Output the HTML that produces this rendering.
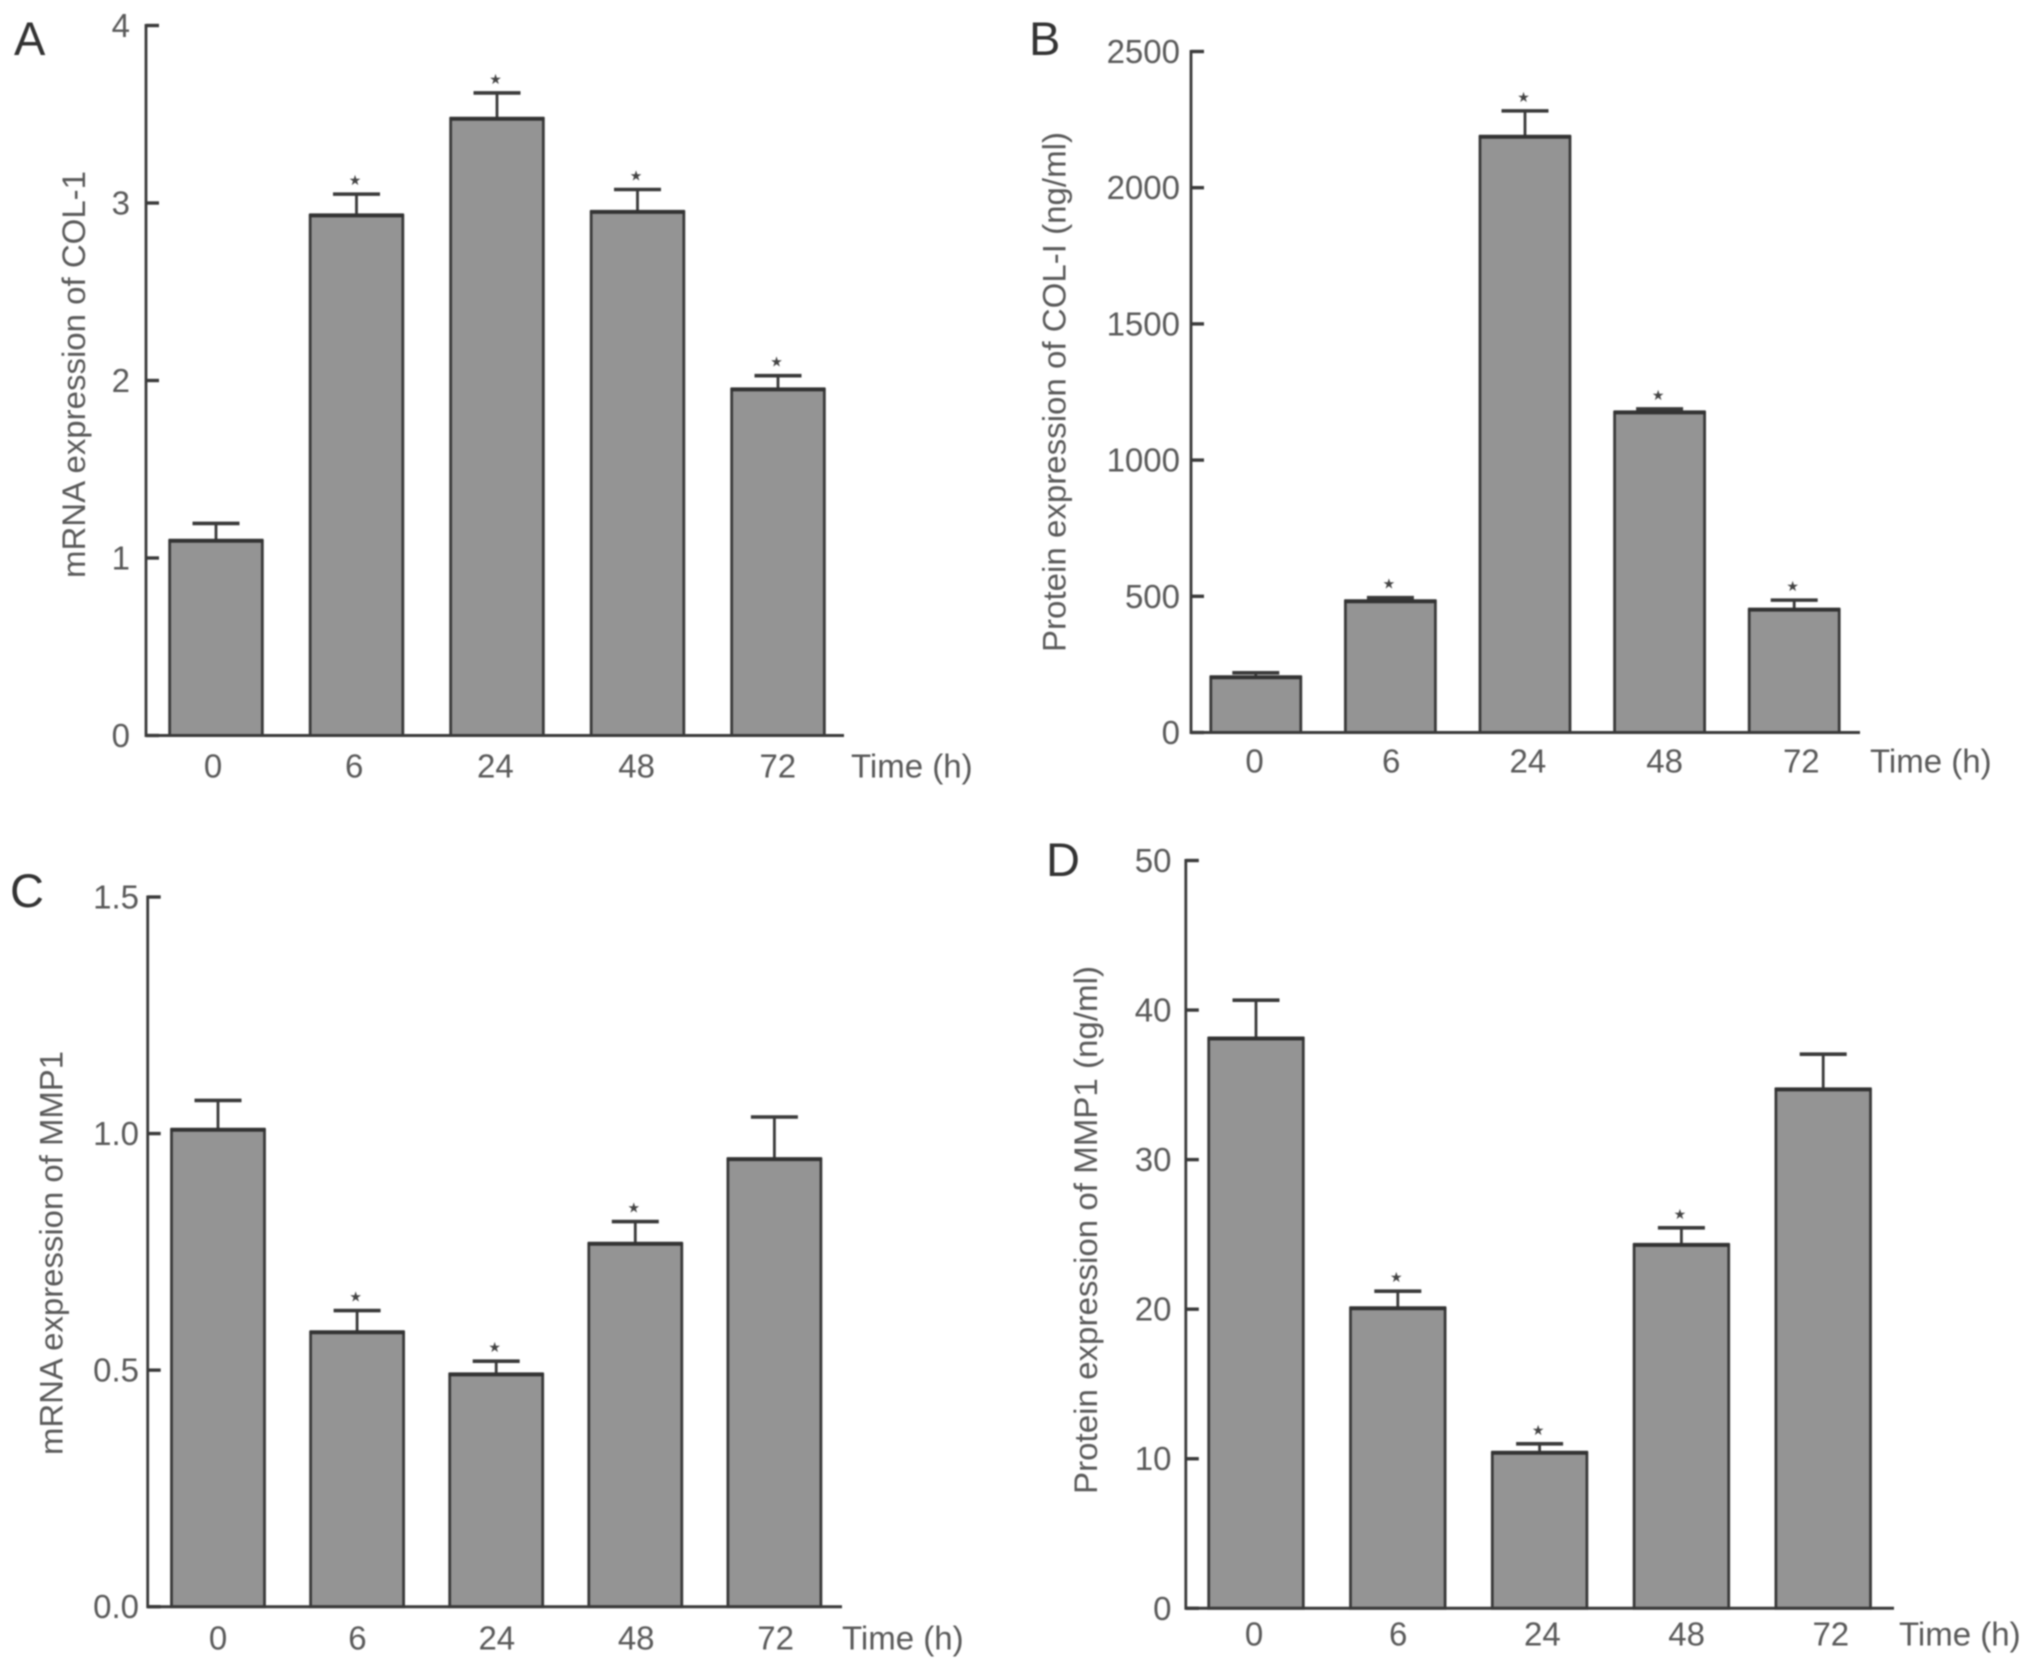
<!DOCTYPE html>
<html lang="en">
<head>
<meta charset="utf-8">
<title>COL-1 and MMP1 expression over time</title>
<style>
  html, body { margin: 0; padding: 0; background: #fff; }
  body { width: 2032px; height: 1665px; overflow: hidden; }
  svg { display: block; filter: blur(0.7px); }
  text { font-family: "Liberation Sans", sans-serif; }
</style>
</head>
<body>
<svg id="figure" xmlns="http://www.w3.org/2000/svg" width="2032" height="1665" viewBox="0 0 2032 1665"></svg>
<script>
const categories = ['0', '6', '24', '48', '72'];

const ticksA = [0, 1, 2, 3, 4];
const tickLabelsA = ['0', '1', '2', '3', '4'];
const meansA = [1.097, 2.93, 3.475, 2.95, 1.95];
const upperA = [1.195, 3.05, 3.62, 3.076, 2.027];
const starsA = [false, true, true, true, true];

const ticksB = [0, 500, 1000, 1500, 2000, 2500];
const tickLabelsB = ['0', '500', '1000', '1500', '2000', '2500'];
const meansB = [203, 482, 2187, 1175, 451];
const upperB = [219, 495, 2282, 1188, 486];
const starsB = [false, true, true, true, true];

const ticksC = [0, 0.5, 1, 1.5];
const tickLabelsC = ['0.0', '0.5', '1.0', '1.5'];
const meansC = [1.008, 0.58, 0.491, 0.767, 0.946];
const upperC = [1.07, 0.626, 0.519, 0.814, 1.035];
const starsC = [false, true, true, true, false];

const ticksD = [0, 10, 20, 30, 40, 50];
const tickLabelsD = ['0', '10', '20', '30', '40', '50'];
const meansD = [38.1, 20.06, 10.4, 24.3, 34.7];
const upperD = [40.66, 21.2, 11.0, 25.44, 37.05];
const starsD = [false, true, true, true, false];

const panels = [
  { id: 'a', letter: 'A', title: 'mRNA expression of COL-1', ticks: ticksA, tickLabels: tickLabelsA, means: meansA, upper: upperA, stars: starsA,
    axisX: 146, baseY: 735.5, topY: 25.5, endX: 844, max: 4,
    barStart: 216, barStep: 140.5, barW: 92.7,
    labelRight: 130, catStart: 213, catStep: 141.2, catY: 766,
    timeX: 851, titleX: 85, titleBottom: 578, titleLen: 407, letterX: 14, letterY: 55 },
  { id: 'b', letter: 'B', title: 'Protein expression of COL-I (ng/ml)', ticks: ticksB, tickLabels: tickLabelsB, means: meansB, upper: upperB, stars: starsB,
    axisX: 1191, baseY: 732.5, topY: 51.5, endX: 1860, max: 2500,
    barStart: 1255.8, barStep: 134.6, barW: 90,
    labelRight: 1180, catStart: 1254.5, catStep: 136.7, catY: 761,
    timeX: 1870, titleX: 1065.5, titleBottom: 652, titleLen: 520, letterX: 1029, letterY: 55 },
  { id: 'c', letter: 'C', title: 'mRNA expression of MMP1', ticks: ticksC, tickLabels: tickLabelsC, means: meansC, upper: upperC, stars: starsC,
    axisX: 147.7, baseY: 1606.7, topY: 897, endX: 842, max: 1.5,
    barStart: 218, barStep: 139.1, barW: 93,
    labelRight: 139, catStart: 218, catStep: 139.4, catY: 1638,
    timeX: 842, titleX: 62.5, titleBottom: 1455, titleLen: 404, letterX: 10, letterY: 907 },
  { id: 'd', letter: 'D', title: 'Protein expression of MMP1 (ng/ml)', ticks: ticksD, tickLabels: tickLabelsD, means: meansD, upper: upperD, stars: starsD,
    axisX: 1185.8, baseY: 1608.3, topY: 860.5, endX: 1894, max: 50,
    barStart: 1256, barStep: 141.8, barW: 94.6,
    labelRight: 1171.5, catStart: 1254, catStep: 144.2, catY: 1634,
    timeX: 1899, titleX: 1097, titleBottom: 1494, titleLen: 528, letterX: 1046, letterY: 876 }
];

const NS = 'http://www.w3.org/2000/svg';
const figure = document.getElementById('figure');
const INK = '#3a3a3a';
const TEXT = '#5a5a5a';

function shape(tag, parent, attrs) {
  const el = document.createElementNS(NS, tag);
  for (const key in attrs) {
    el.setAttribute(key, attrs[key]);
  }
  parent.appendChild(el);
  return el;
}

function makeYScale(p) {
  return function (value) {
    return p.baseY - (value / p.max) * (p.baseY - p.topY);
  };
}

function makeBarX(p) {
  return function (index) {
    return p.barStart + index * p.barStep;
  };
}

function makeCatX(p) {
  return function (index) {
    return p.catStart + index * p.catStep;
  };
}

function axisText(parent, content, x, y, anchor) {
  const el = shape('text', parent, {
    x: x,
    y: y,
    'text-anchor': anchor,
    'font-size': 33,
    fill: TEXT
  });
  el.textContent = content;
  return el;
}

panels.forEach(function (p) {
  const y = makeYScale(p);
  const barX = makeBarX(p);
  const catX = makeCatX(p);

  const group = shape('g', figure, {});
  
  

  const letter = shape('text', group, { x: p.letterX, y: p.letterY, 'font-size': 47, fill: '#333' });
  letter.textContent = p.letter;
  
  

  const title = shape('text', group, {
    transform: 'translate(' + p.titleX + ',' + p.titleBottom + ') rotate(-90)',
    'font-size': 32.5,
    fill: TEXT,
    textLength: p.titleLen,
    lengthAdjust: 'spacingAndGlyphs'
  });
  title.textContent = p.title;
  
  

  p.means.forEach(function (mean, i) {
    const cx = barX(i);
    const left = cx - p.barW / 2;
    const top = y(mean);
    const capY = y(p.upper[i]);

    const stem = shape('line', group, { x1: cx, x2: cx, y1: capY, y2: top, stroke: INK, 'stroke-width': 2.8 });
    
    

    const cap = shape('line', group, { x1: cx - 23.5, x2: cx + 23.5, y1: capY, y2: capY, stroke: INK, 'stroke-width': 3.6 });
    
    

    const bar = shape('rect', group, { x: left, y: top, width: p.barW, height: p.baseY - top, fill: '#949494', stroke: INK, 'stroke-width': 2.8 });
    
    

    const barTop = shape('line', group, { x1: left - 1, x2: left + p.barW + 1, y1: top, y2: top, stroke: '#333', 'stroke-width': 4 });
    
    

    if (p.stars[i]) {
      const star = shape('text', group, { x: cx - 1.5, y: capY - 9, 'text-anchor': 'middle', 'font-size': 14, fill: '#444', style: 'font-family: "DejaVu Sans", sans-serif' });
      star.textContent = '★';
      
      
    }

    const cat = axisText(group, categories[i], catX(i), p.catY + 11.5, 'middle');
    
    
  });

  const yAxis = shape('line', group, { x1: p.axisX, x2: p.axisX, y1: p.topY - 1.5, y2: p.baseY + 1.5, stroke: INK, 'stroke-width': 2.8 });
  
  

  const xAxis = shape('line', group, { x1: p.axisX, x2: p.endX, y1: p.baseY, y2: p.baseY, stroke: INK, 'stroke-width': 3 });
  
  

  p.ticks.forEach(function (tick, i) {
    const ty = y(tick);
    const mark = shape('line', group, { x1: p.axisX, x2: p.axisX + 13, y1: ty, y2: ty, stroke: INK, 'stroke-width': 3.4 });
    
    

    const label = axisText(group, p.tickLabels[i], p.labelRight, ty + 11.5, 'end');
    
    
  });

  const time = axisText(group, 'Time (h)', p.timeX, p.catY + 11.5, 'start');
  
  
});
</script>
</body>
</html>
